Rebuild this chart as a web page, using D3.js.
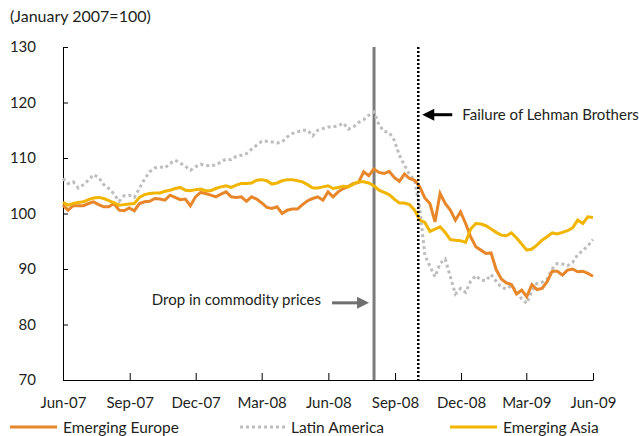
<!DOCTYPE html>
<head>
<meta charset="UTF-8">
<script src="https://d3js.org/d3.v7.min.js"></script>
<style>
  body { margin: 0; background: #fff; }
  svg text { font-family: Lato, "Open Sans", sans-serif; fill: #231f20; }
</style>
</head>
<body>
<svg></svg>
<script>
var width = 639, height = 436;
var margin = {top: 47, left: 63, right: 46, bottom: 56};

// weekly index values, Jun-07 .. Jun-09 (January 2007 = 100)
var emergingEurope = [
  101.5,100.6,101.4,101.4,101.4,101.8,102.1,101.6,101.2,101.2,101.8,100.6,100.5,101.0,100.5,101.8,102.1,
  102.2,102.7,102.6,102.4,103.3,102.9,102.5,102.6,101.4,103.0,103.8,103.6,103.3,103.0,103.5,103.9,103.0,
  102.9,103.0,102.2,103.0,102.6,101.9,101.1,100.9,101.2,100.0,100.6,100.8,100.8,101.6,102.3,102.7,103.0,
  102.4,103.9,103.0,103.9,104.5,104.9,105.4,105.6,107.5,106.8,108.0,107.4,107.2,107.6,106.5,105.8,107.1,
  106.3,106.0,104.8,102.8,101.8,98.5,103.6,101.8,100.6,98.8,100.3,98.2,95.8,94.0,93.4,92.8,92.9,89.9,
  88.2,87.5,87.2,85.5,86.2,85.0,87.2,86.3,86.5,87.7,89.6,89.6,88.9,89.8,90.0,89.5,89.6,89.2,88.7];

var latinAmerica = [
  106.3,105.4,105.7,104.6,105.2,106.0,107.0,106.5,105.2,104.5,103.5,102.2,103.2,103.3,102.9,104.5,106.2,
  107.5,108.2,108.4,108.2,109.0,109.6,109.1,108.5,107.8,108.4,108.9,108.6,108.7,108.7,109.3,109.8,109.7,
  110.3,110.5,110.8,111.6,112.3,113.0,113.0,112.9,112.7,112.9,113.8,114.4,114.7,115.0,115.0,114.0,115.0,
  115.3,115.6,115.6,115.8,116.3,115.2,115.6,116.4,116.9,117.7,118.3,116.0,114.8,114.6,113.2,110.5,108.7,
  107.0,106.0,101.0,92.5,90.5,88.6,91.0,91.8,88.6,85.5,86.5,85.8,87.8,88.8,88.0,87.9,89.0,87.8,
  86.7,86.4,87.0,86.0,84.6,83.8,86.0,87.4,87.6,88.2,90.0,91.0,90.9,90.6,91.2,92.6,93.3,94.2,95.3];

var emergingAsia = [
  102.0,101.5,101.8,102.0,102.1,102.5,102.8,102.9,102.7,102.3,101.9,101.5,101.6,101.7,101.8,102.9,103.4,
  103.6,103.7,103.7,104.0,104.2,104.5,104.7,104.2,104.1,104.3,104.4,104.1,104.1,104.5,104.8,105.0,104.7,
  105.1,105.4,105.4,105.5,106.0,106.1,105.9,105.3,105.5,105.9,106.1,106.1,105.9,105.7,105.2,104.6,104.6,
  104.8,105.0,104.5,104.7,104.9,104.8,105.3,105.7,105.7,105.5,105.0,104.2,103.8,103.4,102.6,101.9,101.9,
  101.6,100.6,98.8,98.4,96.8,97.2,97.6,96.6,95.3,95.2,95.1,94.8,97.2,98.2,98.1,97.8,97.2,96.6,
  96.1,96.0,96.5,95.6,94.5,93.4,93.6,94.3,95.2,95.8,96.5,96.3,96.6,96.9,97.4,98.8,98.2,99.4,99.3];

var tickLabels = ["Jun-07","Sep-07","Dec-07","Mar-08","Jun-08","Sep-08","Dec-08","Mar-09","Jun-09"];
var yTicks = [70, 80, 90, 100, 110, 120, 130];

var parseTick = d3.timeParse("%b-%y");
var start = parseTick("Jun-07"), end = parseTick("Jun-09");
var n = emergingEurope.length;
var dates = d3.range(n).map(function(i) {
  return new Date(+start + i * (end - start) / (n - 1));
});

var series = [
  {name: "Emerging Europe", values: emergingEurope, color: "#e8862a", dash: null},
  {name: "Latin America", values: latinAmerica, color: "#bdbdbd", dash: "3,3"},
  {name: "Emerging Asia", values: emergingAsia, color: "#f1b500", dash: null}
];

var dropDate = new Date(2008, 7, 3);     // drop in commodity prices
var lehmanDate = new Date(2008, 9, 3);   // failure of Lehman Brothers

var svg = d3.select("svg").attr("width", width).attr("height", height);

var x = d3.scaleTime()
  .domain([start, end])
  .range([margin.left, width - margin.right]);

var y = d3.scaleLinear()
  .domain([70, 130])
  .range([height - margin.bottom, margin.top]);

// title
svg.append("text")
  .attr("x", 10).attr("y", 22)
  .style("font-size", "16px")
  .text("(January 2007=100)");

// axes
var yAxis = svg.append("g")
  .attr("transform", "translate(" + margin.left + ",0)")
  .call(d3.axisLeft(y).tickValues(yTicks).tickSize(-5).tickSizeOuter(0).tickPadding(27));
yAxis.selectAll("text").style("font-size", "15px").attr("fill", "#231f20");

var xAxis = svg.append("g")
  .attr("transform", "translate(0," + y(70) + ")")
  .call(d3.axisBottom(x).tickValues(tickLabels.map(parseTick))
    .tickFormat(d3.timeFormat("%b-%y")).tickSize(-7).tickSizeOuter(0).tickPadding(17));
xAxis.selectAll("text").style("font-size", "15px").attr("fill", "#231f20");
svg.selectAll(".domain, .tick line").attr("stroke", "#000");

// event lines
svg.append("line")
  .attr("x1", x(dropDate)).attr("x2", x(dropDate))
  .attr("y1", y(130)).attr("y2", y(70))
  .attr("stroke", "#7b7b7b").attr("stroke-width", 3);

// series
var line = d3.line()
  .x(function(d, i) { return x(dates[i]); })
  .y(function(d) { return y(d); });

svg.selectAll(".serie")
  .data([series[1], series[0], series[2]])
  .enter().append("path")
  .attr("class", "serie")
  .attr("fill", "none")
  .attr("stroke", function(d) { return d.color; })
  .attr("stroke-width", 3)
  .attr("stroke-dasharray", function(d) { return d.dash; })
  .attr("d", function(d) { return line(d.values); });

svg.append("line")
  .attr("x1", x(lehmanDate)).attr("x2", x(lehmanDate))
  .attr("y1", y(130)).attr("y2", y(70))
  .attr("stroke", "#000").attr("stroke-width", 2.5)
  .attr("stroke-dasharray", "2,2");

// annotations
var lx = x(lehmanDate) + 4, ly = y(117.8);
svg.append("line")
  .attr("x1", lx + 10).attr("x2", lx + 30).attr("y1", ly).attr("y2", ly)
  .attr("stroke", "#000").attr("stroke-width", 3);
svg.append("path")
  .attr("d", "M" + lx + "," + ly + "L" + (lx + 12) + "," + (ly - 6) + "L" + (lx + 12) + "," + (ly + 6) + "Z")
  .attr("fill", "#000");
svg.append("text")
  .attr("x", lx + 40).attr("y", ly + 5)
  .style("font-size", "15px")
  .text("Failure of Lehman Brothers");

var dx = x(dropDate) - 5, dy = y(83.9);
svg.append("line")
  .attr("x1", dx - 37).attr("x2", dx - 10).attr("y1", dy).attr("y2", dy)
  .attr("stroke", "#6f6f6f").attr("stroke-width", 3);
svg.append("path")
  .attr("d", "M" + dx + "," + dy + "L" + (dx - 12) + "," + (dy - 6) + "L" + (dx - 12) + "," + (dy + 6) + "Z")
  .attr("fill", "#6f6f6f");
svg.append("text")
  .attr("x", dx - 48).attr("y", dy + 2)
  .attr("text-anchor", "end")
  .style("font-size", "15px")
  .text("Drop in commodity prices");

// legend
var legendX = [10, 240, 450];
var legend = svg.selectAll(".legend")
  .data(series)
  .enter().append("g")
  .attr("class", "legend")
  .attr("transform", function(d, i) { return "translate(" + legendX[i] + ",427)"; });

legend.append("line")
  .attr("x1", 0).attr("x2", 47)
  .attr("stroke", function(d) { return d.color; })
  .attr("stroke-width", 3)
  .attr("stroke-dasharray", function(d) { return d.dash; });

legend.append("text")
  .attr("x", function(d, i) { return i == 1 ? 51 : 53; })
  .attr("y", 5.5)
  .style("font-size", "15.5px")
  .text(function(d) { return d.name; });
</script>
</body>
